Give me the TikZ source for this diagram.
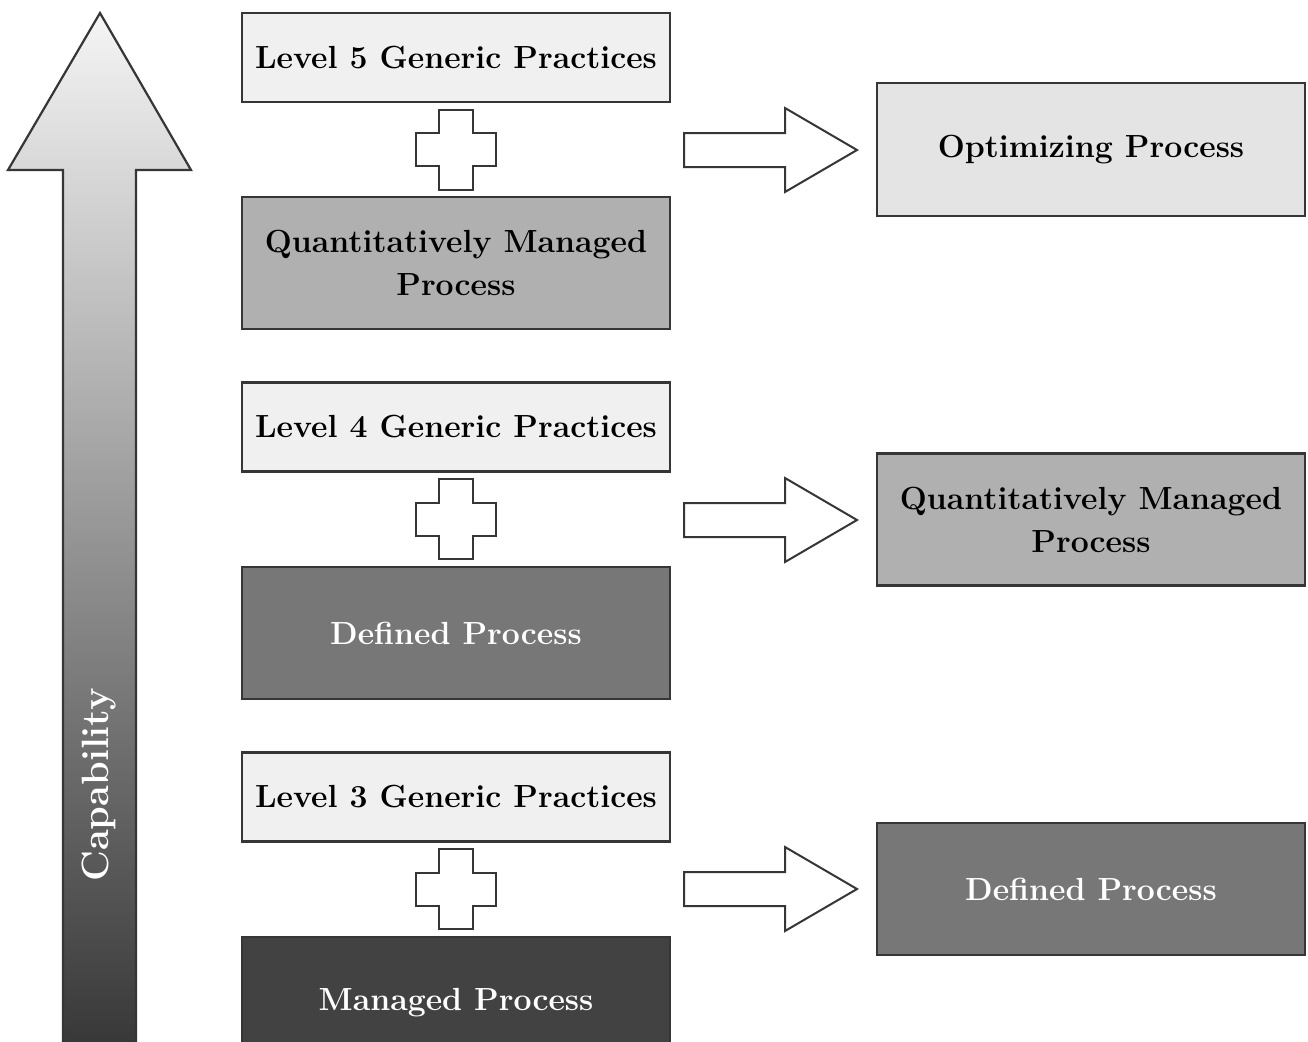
\documentclass[tikz,border=0pt]{standalone}
\usetikzlibrary{calc}
\definecolor{edge}{HTML}{363636}
\definecolor{gpfill}{HTML}{F0F0F0}
\definecolor{optfill}{HTML}{E4E4E4}
\definecolor{qmfill}{HTML}{B0B0B0}
\definecolor{defill}{HTML}{777777}
\definecolor{mgfill}{HTML}{424242}
\tikzset{
  box/.style={draw=edge, line width=2.4pt, minimum width=428pt, align=center,
    font=\fontsize{32}{43}\selectfont\bfseries, inner sep=0pt},
  gpbox/.style={box, fill=gpfill, minimum height=89pt, text=black},
  optbox/.style={box, fill=optfill, minimum height=133pt, text=black},
  qmbox/.style={box, fill=qmfill, minimum height=132pt, text=black},
  defbox/.style={box, fill=defill, minimum height=132pt, text=white},
  mgbox/.style={box, fill=mgfill, minimum height=132pt, text=white},
  outline/.style={draw=edge, line width=2pt, fill=white, line join=miter},
  plusmark/.pic={
    \path[outline] (-17,-40) -- (17,-40) -- (17,-16.5) -- (40,-16.5) -- (40,16.5)
      -- (17,16.5) -- (17,40) -- (-17,40) -- (-17,16.5) -- (-40,16.5)
      -- (-40,-16.5) -- (-17,-16.5) -- cycle;
  },
  blockarrow/.pic={
    \path[outline] (0,-17) -- (101,-17) -- (101,-42) -- (173,0) -- (101,42)
      -- (101,17) -- (0,17) -- cycle;
  }
}
\begin{document}
\begin{tikzpicture}[x=1pt, y=-1pt]
\useasboundingbox (0,0) rectangle (1308,1041);
\fill[white] (0,0) rectangle (1308,1041);

% capability axis
\shade[top color=gray!8, bottom color=black!80, draw=edge, line width=2.2pt]
  (100,13) -- (191,170) -- (136,170) -- (136,1070) -- (63,1070) -- (63,170)
  -- (8,170) -- cycle;
\node[rotate=90, text=white, font=\fontsize{38}{40}\selectfont\bfseries]
  (cap) at (99,785) {Capability};

% left column: practices plus the process they build on
\node[gpbox] (gp5) at (456,57.5) {Level 5 Generic Practices};
\node[qmbox] (qml) at (456,263) {Quantitatively Managed\\Process};
\node[gpbox] (gp4) at (456,427) {Level 4 Generic Practices};
\node[defbox] (dfl) at (456,633) {Defined Process};
\node[gpbox] (gp3) at (456,797) {Level 3 Generic Practices};
\node[mgbox] (mgl) at (456,1003) {Managed Process};

\path ($(gp5.south)!0.5!(qml.north)$) pic {plusmark};
\path ($(gp4.south)!0.5!(dfl.north)$) pic {plusmark};
\path ($(gp3.south)!0.5!(mgl.north)$) pic {plusmark};

% right column: resulting process
\node[optbox] (opt) at (1091,149.5) {Optimizing Process};
\node[qmbox] (qmr) at (1091,519.5) {Quantitatively Managed\\Process};
\node[defbox] (dfr) at (1091,889) {Defined Process};

\path (684,150) pic {blockarrow};
\path (684,520) pic {blockarrow};
\path (684,889) pic {blockarrow};
\end{tikzpicture}
\end{document}
